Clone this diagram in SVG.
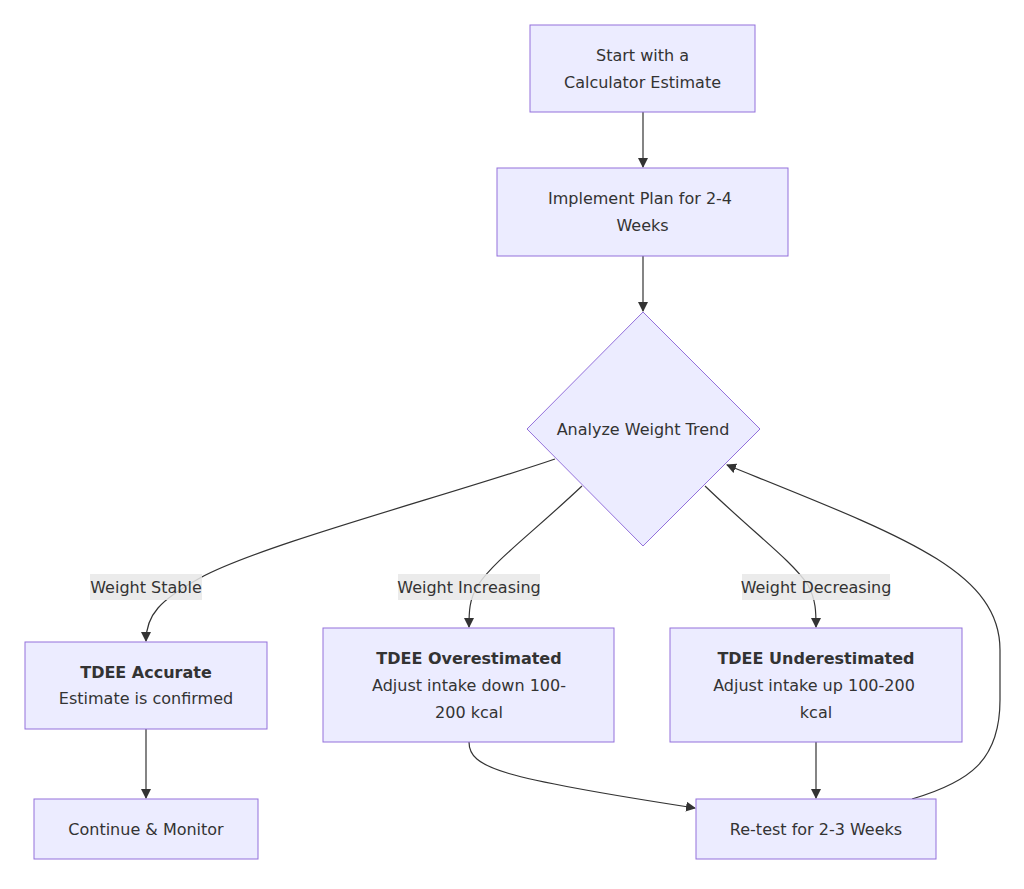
<svg xmlns="http://www.w3.org/2000/svg" width="1024" height="889" viewBox="0 0 1024 889">
<defs>
<marker id="arr" viewBox="0 0 10 10" refX="9" refY="5" markerWidth="10" markerHeight="10" markerUnits="userSpaceOnUse" orient="auto">
<path d="M0,0 L10,5 L0,10 z" fill="#333"/>
</marker>
<style>
.n{fill:#ECECFF;stroke:#9370DB;stroke-width:1}
.t{font-family:"DejaVu Sans","Liberation Sans",sans-serif;font-size:16px;fill:#333;text-anchor:middle}
.b{font-weight:bold}
.e{fill:none;stroke:#333;stroke-width:1.2;marker-end:url(#arr)}
.lb{fill:#e8e8e8;opacity:0.85}
</style>
</defs>
<rect width="1024" height="889" fill="#fff"/>
<g id="edges">
<path class="e" d="M643,112 L643,167"/>
<path class="e" d="M643,256 L643,311"/>
<path class="e" d="M555,459 C450,495 260,545 200,578 C160,600 146,615 146,641"/>
<path class="e" d="M582,486 C530,535 495,560 478,585 C469,600 469,612 469,627"/>
<path class="e" d="M705,486 C756,535 791,560 808,585 C816,600 816,612 816,627"/>
<path class="e" d="M146,729 L146,798"/>
<path class="e" d="M469,742 C469,768 500,778 695,808"/>
<path class="e" d="M816,742 L816,798"/>
<path class="e" d="M912,799 C970,782 1000,760 1000,700 L1000,650 C1000,570 900,535 727,465"/>
</g>
<g id="edge-labels">
<rect class="lb" x="90" y="574" width="112" height="26"/>
<text class="t" x="146" y="593">Weight Stable</text>
<rect class="lb" x="398" y="574" width="142" height="26"/>
<text class="t" x="469" y="593">Weight Increasing</text>
<rect class="lb" x="742" y="574" width="148" height="26"/>
<text class="t" x="816" y="593">Weight Decreasing</text>
</g>
<g id="start">
<rect class="n" x="530" y="25" width="225" height="87"/>
<text class="t" x="642.5" y="61">Start with a</text>
<text class="t" x="642.5" y="88">Calculator Estimate</text>
</g>
<g id="implement">
<rect class="n" x="497" y="168" width="291" height="88"/>
<text class="t" x="640" y="204">Implement Plan for 2-4</text>
<text class="t" x="642.5" y="231">Weeks</text>
</g>
<g id="analyze">
<polygon class="n" points="643,312 760,429 643,546 527,429"/>
<text class="t" x="643" y="435">Analyze Weight Trend</text>
</g>
<g id="accurate">
<rect class="n" x="25" y="642" width="242" height="87"/>
<text class="t b" x="146" y="678">TDEE Accurate</text>
<text class="t" x="146" y="704">Estimate is confirmed</text>
</g>
<g id="over">
<rect class="n" x="323" y="628" width="291" height="114"/>
<text class="t b" x="469" y="664">TDEE Overestimated</text>
<text class="t" x="469" y="691">Adjust intake down 100-</text>
<text class="t" x="469" y="718">200 kcal</text>
</g>
<g id="under">
<rect class="n" x="670" y="628" width="292" height="114"/>
<text class="t b" x="816" y="664">TDEE Underestimated</text>
<text class="t" x="814" y="691">Adjust intake up 100-200</text>
<text class="t" x="816" y="718">kcal</text>
</g>
<g id="continue">
<rect class="n" x="34" y="799" width="224" height="60"/>
<text class="t" x="146" y="835">Continue &amp; Monitor</text>
</g>
<g id="retest">
<rect class="n" x="696" y="799" width="240" height="60"/>
<text class="t" x="816" y="835">Re-test for 2-3 Weeks</text>
</g>
</svg>
